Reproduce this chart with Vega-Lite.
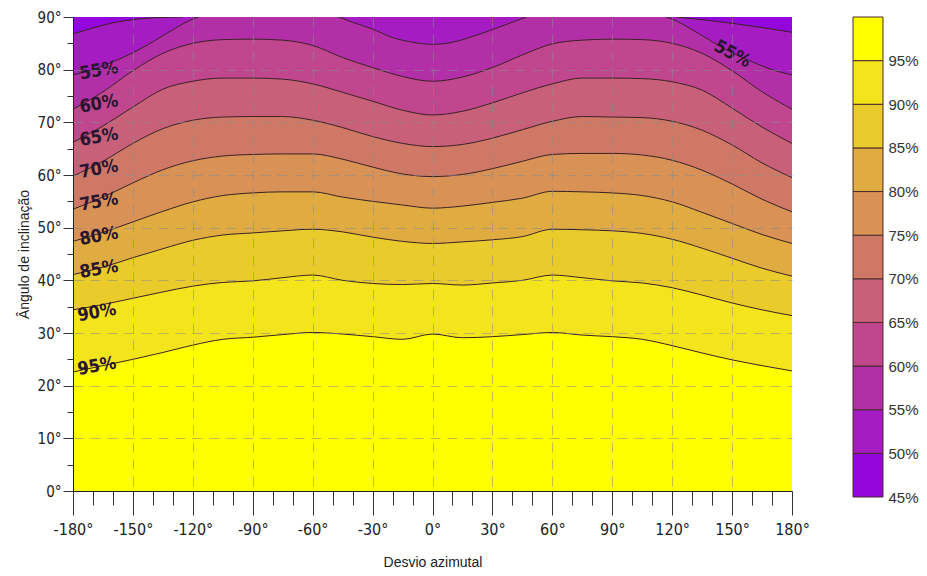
{
  "$schema": "https://vega.github.io/schema/vega-lite/v6.json",
  "background": "white",
  "padding": {"left": 17, "top": 10, "right": 2, "bottom": 2},
  "spacing": 42,
  "config": {"view": {"stroke": null}, "font": "Liberation Sans"},
  "datasets": {
    "contours": [
      {"level":50,"seg":"L","az":-180,"tilt":86.8},{"level":50,"seg":"L","az":-170,"tilt":87.9},{"level":50,"seg":"L","az":-160,"tilt":88.9},{"level":50,"seg":"L","az":-150,"tilt":89.5},{"level":50,"seg":"L","az":-140,"tilt":89.85},{"level":50,"seg":"L","az":-125,"tilt":90},
      {"level":50,"seg":"R","az":122,"tilt":90},{"level":50,"seg":"R","az":135,"tilt":89.5},{"level":50,"seg":"R","az":150,"tilt":88.8},{"level":50,"seg":"R","az":165,"tilt":88.0},{"level":50,"seg":"R","az":180,"tilt":87.1},
      {"level":55,"seg":"L","az":-180,"tilt":79.0},{"level":55,"seg":"L","az":-170,"tilt":80.0},{"level":55,"seg":"L","az":-160,"tilt":81.5},{"level":55,"seg":"L","az":-150,"tilt":83.2},{"level":55,"seg":"L","az":-140,"tilt":85.3},{"level":55,"seg":"L","az":-130,"tilt":87.6},{"level":55,"seg":"L","az":-120,"tilt":89.6},{"level":55,"seg":"L","az":-117,"tilt":90},
      {"level":55,"seg":"C","az":-47,"tilt":90},{"level":55,"seg":"C","az":-40,"tilt":89.0},{"level":55,"seg":"C","az":-30,"tilt":87.7},{"level":55,"seg":"C","az":-20,"tilt":86.1},{"level":55,"seg":"C","az":-10,"tilt":85.2},{"level":55,"seg":"C","az":0,"tilt":84.8},{"level":55,"seg":"C","az":10,"tilt":85.2},{"level":55,"seg":"C","az":20,"tilt":86.3},{"level":55,"seg":"C","az":30,"tilt":87.6},{"level":55,"seg":"C","az":40,"tilt":89.0},{"level":55,"seg":"C","az":47,"tilt":90},
      {"level":55,"seg":"R","az":117,"tilt":90},{"level":55,"seg":"R","az":120,"tilt":89.6},{"level":55,"seg":"R","az":130,"tilt":87.6},{"level":55,"seg":"R","az":140,"tilt":85.3},{"level":55,"seg":"R","az":150,"tilt":83.2},{"level":55,"seg":"R","az":160,"tilt":81.5},{"level":55,"seg":"R","az":170,"tilt":80.0},{"level":55,"seg":"R","az":180,"tilt":79.0},
      {"level":60,"seg":"F","az":-180,"tilt":72.5},{"level":60,"seg":"F","az":-165,"tilt":75.8},{"level":60,"seg":"F","az":-150,"tilt":79.8},{"level":60,"seg":"F","az":-135,"tilt":83.1},{"level":60,"seg":"F","az":-120,"tilt":85.0},{"level":60,"seg":"F","az":-105,"tilt":85.7},{"level":60,"seg":"F","az":-90,"tilt":85.8},{"level":60,"seg":"F","az":-75,"tilt":85.6},{"level":60,"seg":"F","az":-60,"tilt":84.6},{"level":60,"seg":"F","az":-45,"tilt":82.3},{"level":60,"seg":"F","az":-30,"tilt":80.4},{"level":60,"seg":"F","az":-15,"tilt":78.7},{"level":60,"seg":"F","az":0,"tilt":77.8},{"level":60,"seg":"F","az":15,"tilt":78.6},{"level":60,"seg":"F","az":30,"tilt":80.4},{"level":60,"seg":"F","az":45,"tilt":82.8},{"level":60,"seg":"F","az":60,"tilt":84.9},{"level":60,"seg":"F","az":75,"tilt":85.6},{"level":60,"seg":"F","az":90,"tilt":85.8},{"level":60,"seg":"F","az":105,"tilt":85.7},{"level":60,"seg":"F","az":120,"tilt":85.0},{"level":60,"seg":"F","az":135,"tilt":83.1},{"level":60,"seg":"F","az":150,"tilt":79.8},{"level":60,"seg":"F","az":165,"tilt":75.8},{"level":60,"seg":"F","az":180,"tilt":72.5},
      {"level":65,"seg":"F","az":-180,"tilt":66.2},{"level":65,"seg":"F","az":-165,"tilt":69.3},{"level":65,"seg":"F","az":-150,"tilt":72.9},{"level":65,"seg":"F","az":-135,"tilt":76.3},{"level":65,"seg":"F","az":-120,"tilt":77.8},{"level":65,"seg":"F","az":-105,"tilt":78.4},{"level":65,"seg":"F","az":-90,"tilt":78.4},{"level":65,"seg":"F","az":-75,"tilt":78.2},{"level":65,"seg":"F","az":-60,"tilt":77.3},{"level":65,"seg":"F","az":-45,"tilt":75.7},{"level":65,"seg":"F","az":-30,"tilt":74.0},{"level":65,"seg":"F","az":-15,"tilt":72.3},{"level":65,"seg":"F","az":0,"tilt":71.4},{"level":65,"seg":"F","az":15,"tilt":72.1},{"level":65,"seg":"F","az":30,"tilt":73.7},{"level":65,"seg":"F","az":45,"tilt":75.6},{"level":65,"seg":"F","az":60,"tilt":77.3},{"level":65,"seg":"F","az":75,"tilt":78.4},{"level":65,"seg":"F","az":90,"tilt":78.4},{"level":65,"seg":"F","az":105,"tilt":78.3},{"level":65,"seg":"F","az":120,"tilt":77.7},{"level":65,"seg":"F","az":135,"tilt":76.1},{"level":65,"seg":"F","az":150,"tilt":72.7},{"level":65,"seg":"F","az":165,"tilt":69.1},{"level":65,"seg":"F","az":180,"tilt":66.0},
      {"level":70,"seg":"F","az":-180,"tilt":59.8},{"level":70,"seg":"F","az":-165,"tilt":62.6},{"level":70,"seg":"F","az":-150,"tilt":66.0},{"level":70,"seg":"F","az":-135,"tilt":68.8},{"level":70,"seg":"F","az":-120,"tilt":70.4},{"level":70,"seg":"F","az":-105,"tilt":71.0},{"level":70,"seg":"F","az":-90,"tilt":71.1},{"level":70,"seg":"F","az":-75,"tilt":71.1},{"level":70,"seg":"F","az":-60,"tilt":70.4},{"level":70,"seg":"F","az":-45,"tilt":69.0},{"level":70,"seg":"F","az":-30,"tilt":67.3},{"level":70,"seg":"F","az":-15,"tilt":66.0},{"level":70,"seg":"F","az":0,"tilt":65.4},{"level":70,"seg":"F","az":15,"tilt":65.8},{"level":70,"seg":"F","az":30,"tilt":67.0},{"level":70,"seg":"F","az":45,"tilt":68.6},{"level":70,"seg":"F","az":60,"tilt":70.2},{"level":70,"seg":"F","az":75,"tilt":71.1},{"level":70,"seg":"F","az":90,"tilt":71.0},{"level":70,"seg":"F","az":105,"tilt":70.9},{"level":70,"seg":"F","az":120,"tilt":70.2},{"level":70,"seg":"F","az":135,"tilt":68.5},{"level":70,"seg":"F","az":150,"tilt":65.7},{"level":70,"seg":"F","az":165,"tilt":62.3},{"level":70,"seg":"F","az":180,"tilt":59.5},
      {"level":75,"seg":"F","az":-180,"tilt":53.5},{"level":75,"seg":"F","az":-165,"tilt":55.8},{"level":75,"seg":"F","az":-150,"tilt":58.5},{"level":75,"seg":"F","az":-135,"tilt":61.0},{"level":75,"seg":"F","az":-120,"tilt":62.7},{"level":75,"seg":"F","az":-105,"tilt":63.6},{"level":75,"seg":"F","az":-90,"tilt":63.9},{"level":75,"seg":"F","az":-75,"tilt":64.0},{"level":75,"seg":"F","az":-60,"tilt":64.0},{"level":75,"seg":"F","az":-45,"tilt":63.0},{"level":75,"seg":"F","az":-30,"tilt":61.5},{"level":75,"seg":"F","az":-15,"tilt":60.2},{"level":75,"seg":"F","az":0,"tilt":59.7},{"level":75,"seg":"F","az":15,"tilt":60.1},{"level":75,"seg":"F","az":30,"tilt":61.2},{"level":75,"seg":"F","az":45,"tilt":62.6},{"level":75,"seg":"F","az":60,"tilt":63.9},{"level":75,"seg":"F","az":75,"tilt":64.1},{"level":75,"seg":"F","az":90,"tilt":64.1},{"level":75,"seg":"F","az":105,"tilt":63.8},{"level":75,"seg":"F","az":120,"tilt":62.8},{"level":75,"seg":"F","az":135,"tilt":60.9},{"level":75,"seg":"F","az":150,"tilt":58.3},{"level":75,"seg":"F","az":165,"tilt":55.4},{"level":75,"seg":"F","az":180,"tilt":53.0},
      {"level":80,"seg":"F","az":-180,"tilt":47.4},{"level":80,"seg":"F","az":-165,"tilt":49.1},{"level":80,"seg":"F","az":-150,"tilt":51.1},{"level":80,"seg":"F","az":-135,"tilt":53.1},{"level":80,"seg":"F","az":-120,"tilt":54.9},{"level":80,"seg":"F","az":-105,"tilt":56.1},{"level":80,"seg":"F","az":-90,"tilt":56.6},{"level":80,"seg":"F","az":-75,"tilt":56.8},{"level":80,"seg":"F","az":-60,"tilt":56.8},{"level":80,"seg":"F","az":-45,"tilt":55.8},{"level":80,"seg":"F","az":-30,"tilt":55.0},{"level":80,"seg":"F","az":-15,"tilt":54.3},{"level":80,"seg":"F","az":0,"tilt":53.7},{"level":80,"seg":"F","az":15,"tilt":54.1},{"level":80,"seg":"F","az":30,"tilt":54.8},{"level":80,"seg":"F","az":45,"tilt":55.6},{"level":80,"seg":"F","az":60,"tilt":56.9},{"level":80,"seg":"F","az":75,"tilt":56.8},{"level":80,"seg":"F","az":90,"tilt":56.6},{"level":80,"seg":"F","az":105,"tilt":56.1},{"level":80,"seg":"F","az":120,"tilt":54.9},{"level":80,"seg":"F","az":135,"tilt":52.9},{"level":80,"seg":"F","az":150,"tilt":50.8},{"level":80,"seg":"F","az":165,"tilt":48.7},{"level":80,"seg":"F","az":180,"tilt":47.0},
      {"level":85,"seg":"F","az":-180,"tilt":41.1},{"level":85,"seg":"F","az":-165,"tilt":42.5},{"level":85,"seg":"F","az":-150,"tilt":44.3},{"level":85,"seg":"F","az":-135,"tilt":46.0},{"level":85,"seg":"F","az":-120,"tilt":47.6},{"level":85,"seg":"F","az":-105,"tilt":48.6},{"level":85,"seg":"F","az":-90,"tilt":49.0},{"level":85,"seg":"F","az":-75,"tilt":49.4},{"level":85,"seg":"F","az":-60,"tilt":49.7},{"level":85,"seg":"F","az":-45,"tilt":49.2},{"level":85,"seg":"F","az":-30,"tilt":48.2},{"level":85,"seg":"F","az":-15,"tilt":47.4},{"level":85,"seg":"F","az":0,"tilt":47.0},{"level":85,"seg":"F","az":15,"tilt":47.3},{"level":85,"seg":"F","az":30,"tilt":47.7},{"level":85,"seg":"F","az":45,"tilt":48.3},{"level":85,"seg":"F","az":60,"tilt":49.7},{"level":85,"seg":"F","az":75,"tilt":49.6},{"level":85,"seg":"F","az":90,"tilt":49.4},{"level":85,"seg":"F","az":105,"tilt":48.9},{"level":85,"seg":"F","az":120,"tilt":47.8},{"level":85,"seg":"F","az":135,"tilt":46.1},{"level":85,"seg":"F","az":150,"tilt":44.2},{"level":85,"seg":"F","az":165,"tilt":42.3},{"level":85,"seg":"F","az":180,"tilt":40.8},
      {"level":90,"seg":"F","az":-180,"tilt":34.4},{"level":90,"seg":"F","az":-165,"tilt":35.4},{"level":90,"seg":"F","az":-150,"tilt":36.6},{"level":90,"seg":"F","az":-135,"tilt":37.8},{"level":90,"seg":"F","az":-120,"tilt":38.9},{"level":90,"seg":"F","az":-105,"tilt":39.6},{"level":90,"seg":"F","az":-90,"tilt":39.9},{"level":90,"seg":"F","az":-75,"tilt":40.5},{"level":90,"seg":"F","az":-60,"tilt":41.0},{"level":90,"seg":"F","az":-45,"tilt":40.0},{"level":90,"seg":"F","az":-30,"tilt":39.4},{"level":90,"seg":"F","az":-15,"tilt":39.2},{"level":90,"seg":"F","az":0,"tilt":39.4},{"level":90,"seg":"F","az":15,"tilt":39.1},{"level":90,"seg":"F","az":30,"tilt":39.5},{"level":90,"seg":"F","az":45,"tilt":40.0},{"level":90,"seg":"F","az":60,"tilt":41.0},{"level":90,"seg":"F","az":75,"tilt":40.5},{"level":90,"seg":"F","az":90,"tilt":39.9},{"level":90,"seg":"F","az":105,"tilt":39.5},{"level":90,"seg":"F","az":120,"tilt":38.6},{"level":90,"seg":"F","az":135,"tilt":37.2},{"level":90,"seg":"F","az":150,"tilt":35.7},{"level":90,"seg":"F","az":165,"tilt":34.4},{"level":90,"seg":"F","az":180,"tilt":33.3},
      {"level":95,"seg":"F","az":-180,"tilt":22.6},{"level":95,"seg":"F","az":-165,"tilt":23.8},{"level":95,"seg":"F","az":-150,"tilt":25.0},{"level":95,"seg":"F","az":-135,"tilt":26.3},{"level":95,"seg":"F","az":-120,"tilt":27.7},{"level":95,"seg":"F","az":-105,"tilt":28.8},{"level":95,"seg":"F","az":-90,"tilt":29.2},{"level":95,"seg":"F","az":-75,"tilt":29.7},{"level":95,"seg":"F","az":-60,"tilt":30.1},{"level":95,"seg":"F","az":-45,"tilt":29.8},{"level":95,"seg":"F","az":-30,"tilt":29.3},{"level":95,"seg":"F","az":-15,"tilt":28.8},{"level":95,"seg":"F","az":0,"tilt":29.8},{"level":95,"seg":"F","az":15,"tilt":29.1},{"level":95,"seg":"F","az":30,"tilt":29.3},{"level":95,"seg":"F","az":45,"tilt":29.7},{"level":95,"seg":"F","az":60,"tilt":30.1},{"level":95,"seg":"F","az":75,"tilt":29.6},{"level":95,"seg":"F","az":90,"tilt":29.3},{"level":95,"seg":"F","az":105,"tilt":28.8},{"level":95,"seg":"F","az":120,"tilt":27.6},{"level":95,"seg":"F","az":135,"tilt":26.2},{"level":95,"seg":"F","az":150,"tilt":24.9},{"level":95,"seg":"F","az":165,"tilt":23.8},{"level":95,"seg":"F","az":180,"tilt":22.8}
    ],
    "labels": [
      {"label":"55%","az":-167,"tilt":79.7,"side":"left"},
      {"label":"60%","az":-167,"tilt":73.4,"side":"left"},
      {"label":"65%","az":-167,"tilt":67.1,"side":"left"},
      {"label":"70%","az":-167,"tilt":61.0,"side":"left"},
      {"label":"75%","az":-167,"tilt":54.8,"side":"left"},
      {"label":"80%","az":-167,"tilt":48.3,"side":"left"},
      {"label":"85%","az":-167,"tilt":42.0,"side":"left"},
      {"label":"90%","az":-168,"tilt":33.8,"side":"left"},
      {"label":"95%","az":-168,"tilt":23.6,"side":"left"},
      {"label":"55%","az":150,"tilt":82.9,"side":"right"}
    ],
    "bands": [
      {"lo":45,"hi":50},{"lo":50,"hi":55},{"lo":55,"hi":60},{"lo":60,"hi":65},{"lo":65,"hi":70},
      {"lo":70,"hi":75},{"lo":75,"hi":80},{"lo":80,"hi":85},{"lo":85,"hi":90},{"lo":90,"hi":95},{"lo":95,"hi":100}
    ]
  },
  "hconcat": [
    {
      "width": 719,
      "height": 474,
      "view": {"fill": "#ffff00", "stroke": null},
      "data": {"name": "contours"},
      "encoding": {
        "x": {
          "field": "az", "type": "quantitative",
          "scale": {"domain": [-180, 180], "nice": false, "zero": false},
          "title": "Desvio azimutal",
          "axis": {
            "values": [-180,-170,-160,-150,-140,-130,-120,-110,-100,-90,-80,-70,-60,-50,-40,-30,-20,-10,0,10,20,30,40,50,60,70,80,90,100,110,120,130,140,150,160,170,180],
            "labelExpr": "datum.value % 30 === 0 ? datum.value + '°' : ''",
            "tickSize": {"condition": {"test": "datum.value % 30 === 0", "value": 24}, "value": 14},
            "tickColor": "#333", "domainColor": "#222", "tickWidth": 1,
            "grid": true,
            "gridColor": "#8a8a8a",
            "gridDash": [10, 7],
            "gridOpacity": {"condition": {"test": "datum.value % 30 === 0 && abs(datum.value) < 180", "value": 0.55}, "value": 0},
            "labelFont": "DejaVu Sans Condensed, Liberation Sans, sans-serif", "labelFontSize": 16, "labelColor": "#222",
            "labelPadding": 6, "labelFlush": false, "labelOverlap": false,
            "titleFont": "Liberation Sans", "titleFontSize": 14, "titleFontWeight": "normal", "titleColor": "#222",
            "titlePadding": 18,
            "zindex": 1
          }
        },
        "y": {
          "field": "tilt", "type": "quantitative",
          "scale": {"domain": [0, 90], "nice": false},
          "stack": null,
          "title": "Ângulo de inclinação",
          "axis": {
            "values": [0,5,10,15,20,25,30,35,40,45,50,55,60,65,70,75,80,85,90],
            "labelExpr": "datum.value % 10 === 0 ? datum.value + '°' : ''",
            "tickSize": {"condition": {"test": "datum.value % 10 === 0", "value": 10}, "value": 6},
            "tickColor": "#333", "domainColor": "#222", "tickWidth": 1,
            "grid": true,
            "gridColor": "#8a8a8a",
            "gridDash": [10, 7],
            "gridOpacity": {"condition": {"test": "datum.value % 10 === 0 && datum.value > 0 && datum.value < 90", "value": 0.55}, "value": 0},
            "labelFont": "DejaVu Sans Condensed, Liberation Sans, sans-serif", "labelFontSize": 15, "labelColor": "#222",
            "labelPadding": 2, "labelFlush": false, "labelOverlap": false,
            "titleFont": "Liberation Sans", "titleFontSize": 14, "titleFontWeight": "normal", "titleColor": "#222",
            "titlePadding": 6,
            "zindex": 1
          }
        }
      },
      "layer": [
        {"transform": [{"filter": "datum.level === 95"}], "mark": {"type": "area", "interpolate": "monotone", "clip": true}, "encoding": {"y2": {"datum": 90}, "detail": {"field": "seg"}, "color": {"field": "level", "type": "ordinal", "scale": {"domain": [50,55,60,65,70,75,80,85,90,95,100], "range": ["#9306dc","#a51cc2","#b32fa8","#c0468e","#c8607a","#d07866","#d89256","#e0ac42","#eacb2c","#f4e41c","#ffff00"]}, "legend": null}}},
        {"transform": [{"filter": "datum.level === 90"}], "mark": {"type": "area", "interpolate": "monotone", "clip": true}, "encoding": {"y2": {"datum": 90}, "detail": {"field": "seg"}, "color": {"field": "level", "type": "ordinal", "legend": null}}},
        {"transform": [{"filter": "datum.level === 85"}], "mark": {"type": "area", "interpolate": "monotone", "clip": true}, "encoding": {"y2": {"datum": 90}, "detail": {"field": "seg"}, "color": {"field": "level", "type": "ordinal", "legend": null}}},
        {"transform": [{"filter": "datum.level === 80"}], "mark": {"type": "area", "interpolate": "monotone", "clip": true}, "encoding": {"y2": {"datum": 90}, "detail": {"field": "seg"}, "color": {"field": "level", "type": "ordinal", "legend": null}}},
        {"transform": [{"filter": "datum.level === 75"}], "mark": {"type": "area", "interpolate": "monotone", "clip": true}, "encoding": {"y2": {"datum": 90}, "detail": {"field": "seg"}, "color": {"field": "level", "type": "ordinal", "legend": null}}},
        {"transform": [{"filter": "datum.level === 70"}], "mark": {"type": "area", "interpolate": "monotone", "clip": true}, "encoding": {"y2": {"datum": 90}, "detail": {"field": "seg"}, "color": {"field": "level", "type": "ordinal", "legend": null}}},
        {"transform": [{"filter": "datum.level === 65"}], "mark": {"type": "area", "interpolate": "monotone", "clip": true}, "encoding": {"y2": {"datum": 90}, "detail": {"field": "seg"}, "color": {"field": "level", "type": "ordinal", "legend": null}}},
        {"transform": [{"filter": "datum.level === 60"}], "mark": {"type": "area", "interpolate": "monotone", "clip": true}, "encoding": {"y2": {"datum": 90}, "detail": {"field": "seg"}, "color": {"field": "level", "type": "ordinal", "legend": null}}},
        {"transform": [{"filter": "datum.level === 55"}], "mark": {"type": "area", "interpolate": "monotone", "clip": true}, "encoding": {"y2": {"datum": 90}, "detail": {"field": "seg"}, "color": {"field": "level", "type": "ordinal", "legend": null}}},
        {"transform": [{"filter": "datum.level === 50"}], "mark": {"type": "area", "interpolate": "monotone", "clip": true}, "encoding": {"y2": {"datum": 90}, "detail": {"field": "seg"}, "color": {"field": "level", "type": "ordinal", "legend": null}}},
        {"mark": {"type": "line", "interpolate": "monotone", "color": "#3a2224", "strokeWidth": 1, "clip": true}, "encoding": {"detail": [{"field": "level"}, {"field": "seg"}]}},
        {
          "data": {"name": "labels"},
          "transform": [{"filter": "datum.side === 'left'"}],
          "mark": {"type": "text", "font": "DejaVu Sans Condensed, Liberation Sans, sans-serif", "fontWeight": "bold", "fontSize": 18, "angle": -10, "color": "#2a1530", "align": "center", "baseline": "middle"},
          "encoding": {"text": {"field": "label"}}
        },
        {
          "data": {"name": "labels"},
          "transform": [{"filter": "datum.side === 'right'"}],
          "mark": {"type": "text", "font": "DejaVu Sans Condensed, Liberation Sans, sans-serif", "fontWeight": "bold", "fontSize": 18, "angle": 28, "color": "#2a1530", "align": "center", "baseline": "middle"},
          "encoding": {"text": {"field": "label"}}
        }
      ]
    },
    {
      "width": 30,
      "height": 480,
      "data": {"name": "bands"},
      "mark": {"type": "rect", "stroke": "#4a2a2a", "strokeWidth": 1},
      "encoding": {
        "y": {
          "field": "lo", "type": "quantitative",
          "scale": {"domain": [45, 100], "nice": false, "zero": false},
          "axis": {
            "orient": "right", "title": null,
            "values": [45,50,55,60,65,70,75,80,85,90,95],
            "labelExpr": "datum.value + '%'",
            "ticks": false, "domain": false, "grid": false,
            "labelFont": "Liberation Sans", "labelFontSize": 15, "labelColor": "#333",
            "labelPadding": 5, "labelFlush": false, "labelOverlap": false
          }
        },
        "y2": {"field": "hi"},
        "color": {"field": "hi", "type": "ordinal", "scale": {"domain": [50,55,60,65,70,75,80,85,90,95,100], "range": ["#9306dc","#a51cc2","#b32fa8","#c0468e","#c8607a","#d07866","#d89256","#e0ac42","#eacb2c","#f4e41c","#ffff00"]}, "legend": null}
      }
    }
  ]
}
